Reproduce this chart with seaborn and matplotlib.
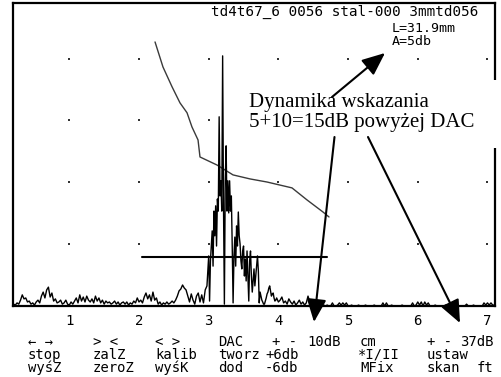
import numpy as np
import pandas as pd
import matplotlib
matplotlib.use("Agg")
import matplotlib.pyplot as plt
import seaborn as sns
from matplotlib.patches import Rectangle, FancyArrowPatch

# ---------------- data ----------------
step = 0.025
noise_start = 0.20
noise_amp = [
    0.6, 0.3, 1.0, 0.6, 1.9, 3.6, 2.3, 2.6, 1.3, 1.6,
    0.6, 1.0, 0.3, 1.3, 1.9, 1.0, 3.2, 4.5, 2.6, 5.2,
    6.1, 2.9, 4.2, 1.6, 2.3, 1.0, 1.3, 1.9, 0.6, 1.0,
    1.9, 0.6, 0.3, 1.3, 0.6, 1.6, 2.6, 1.0, 3.6, 1.6,
    2.9, 1.3, 3.2, 1.9, 1.3, 2.3, 1.0, 3.2, 1.6, 2.6,
    1.0, 1.9, 0.6, 1.6, 1.0, 1.3, 0.6, 1.0, 1.6, 0.6,
    1.3, 0.3, 1.0, 1.3, 0.6, 1.3, 0.3, 1.0, 0.6, 1.6,
    1.0, 2.6, 1.3, 1.9, 1.0, 2.9, 4.2, 2.3, 3.6, 1.6,
    4.5, 1.9, 2.6, 0.6, 1.3, 0.3, 1.0, 0.6, 1.3, 0.6,
    1.0, 1.6, 1.0, 1.9, 3.2, 4.9, 5.5, 6.8, 5.8, 5.2,
    3.2, 1.3, 3.9, 1.9, 0.6, 3.2, 4.2, 1.3, 3.6, 1.0, 5.2,
]
echo_start = 2.975
echo_step = 0.0125
echo_amp = [
    6.5, 11.3, 16.2, 1.6, 14.6, 19.4, 24.3, 12.9, 30.7, 22.7,
    32.4, 19.4, 34.6, 30.7, 61.2, 35.6, 40.5, 30.7, 80.9, 32.4,
    0.6, 40.5, 51.8, 30.7, 40.5, 30.1, 40.5, 30.7, 35.6, 19.4,
    1.0, 16.2, 22.3, 12.9, 25.9, 19.4, 30.4, 22.7, 20.1, 14.6,
    12.0, 17.8, 19.4, 9.7, 15.2, 8.1, 17.8, 9.7, 1.6, 14.6,
    17.8, 9.7, 4.5, 8.1, 12.0, 6.5, 9.7, 12.9, 16.2, 11.3,
    1.0, 4.5, 3.2, 1.9, 1.3, 0.6, 0.6, 1.6, 2.6, 3.9,
    4.5, 5.8, 6.5, 4.9, 3.2, 3.9, 4.2, 2.6, 1.6, 1.9,
]
tail_start = 3.975
tail_amp = [
    2.6, 1.3, 1.9, 2.9, 1.0, 1.6, 0.6, 2.3, 1.3, 0.6,
    1.6, 0.3, 1.0, 1.9, 0.6, 1.3, 0.3, 1.0, 3.2, 1.3,
    0.3, 0.3, 0.0, 0.3, 0.0, 0.3, 0.0, 0.3, 0.0, 0.3,
    0.0, 0.0, 1.0, 0.0, 0.0, 0.3, 1.0, 0.3, 1.0, 0.3,
    1.0, 0.0, 0.0, 0.3, 0.0, 0.0, 0.0, 0.3, 0.0, 0.0,
    0.0, 0.3, 0.0, 0.0, 0.0, 0.0, 0.3, 0.0, 0.0, 0.0,
    0.0, 1.0, 0.0, 1.0, 0.0, 0.0, 0.3, 0.0, 0.0, 0.0,
    0.0, 0.0, 0.3, 0.0, 0.0, 0.0, 0.0, 0.0, 1.0, 0.0,
    0.3, 1.3, 0.3, 1.3, 0.0, 1.3, 0.3, 1.0, 0.0, 0.0,
    0.0, 0.3, 0.0, 0.0, 0.0, 0.0, 0.0, 0.3, 0.0, 0.0,
    0.0, 0.0, 0.0, 0.0, 0.0, 0.0, 0.0, 0.0, 0.0, 0.6,
    0.0, 0.0, 0.0, 0.3, 0.0, 0.0, 0.0, 0.0, 0.0, 1.0,
    0.3, 1.0, 0.3, 1.0, 0.3, 0.3,
]

dac_x = [2.230, 2.344, 2.474, 2.588, 2.689, 2.760, 2.847, 2.875,
         3.119, 3.349, 3.593, 3.837, 4.195, 4.411, 4.640, 4.726]
dac_y = [85.4, 77.3, 70.9, 65.7, 62.5, 57.9, 53.7, 48.2,
         45.6, 42.4, 41.1, 40.1, 38.2, 34.3, 30.4, 28.8]

gate_x = [2.04, 4.70]
gate_y = [15.9, 15.9]

tick_positions = [1, 2, 3, 4, 5, 6, 7]
tick_labels = ["1", "2", "3", "4", "5", "6", "7"]
grid_levels = [20, 40, 60, 80]

header_text = "td4t67_6 0056 stal-000 3mmtd056"
info_lines = ["L=31.9mm", "A=5db"]
menu_row1 = ["← →", "> <", "< >", "DAC", "+ -", "10dB", "cm", "+ -", "37dB"]
menu_row2 = ["stop", "zalZ", "kalib", "tworz", "+6db", "*I/II", "ustaw"]
menu_row3 = ["wyśZ", "zeroZ", "wyśK", "dod", "-6db", "MFix", "skan", "ft"]
annotation_lines = ["Dynamika wskazania", "5+10=15dB powyżej DAC"]

# ---------------- build tables ----------------
def segment(start, amps, dx):
    return pd.DataFrame({"x": start + dx * np.arange(len(amps)), "amp": amps})

trace = pd.concat([segment(noise_start, noise_amp, step),
                   segment(echo_start, echo_amp, echo_step),
                   segment(tail_start, tail_amp, step)], ignore_index=True)
dac = pd.DataFrame({"x": dac_x, "y": dac_y})
gate = pd.DataFrame({"x": gate_x, "y": gate_y})
dots = pd.DataFrame([(x, y) for x in tick_positions for y in grid_levels], columns=["x", "y"])

# ---------------- figure ----------------
sns.set_style("white")
plt.rcParams["font.family"] = ["DejaVu Sans Mono", "DejaVu Sans"]

W, H = 502, 377
fig = plt.figure(figsize=(W / 100, H / 100), dpi=100)
ax = fig.add_axes([13 / W, 1 - 306 / H, (495 - 13) / W, (306 - 3) / H])

sns.scatterplot(data=dots, x="x", y="y", ax=ax, marker="s", s=2.0,
                color="#333333", linewidth=0, zorder=1)
sns.lineplot(data=trace, x="x", y="amp", ax=ax, estimator=None, sort=False,
             color="black", linewidth=1.0, zorder=3)
sns.lineplot(data=dac, x="x", y="y", ax=ax, estimator=None, sort=False,
             color="#3a3a3a", linewidth=1.0, zorder=2)
sns.lineplot(data=gate, x="x", y="y", ax=ax, estimator=None, sort=False,
             color="black", linewidth=1.5, zorder=2)

ax.set_xlim(0.192, 7.108)
ax.set_ylim(0, 98)
ax.set_xlabel("")
ax.set_ylabel("")
ax.set_yticks([])
ax.set_xticks(tick_positions, labels=tick_labels)
ax.tick_params(axis="x", direction="out", length=2.5, width=1.0, pad=3,
               labelsize=10, colors="black")
for sp in ax.spines.values():
    sp.set_linewidth(1.6)
    sp.set_color("black")

def fp(px, py):
    return (px / W, 1 - py / H)

# white box behind annotation text
fig.add_artist(Rectangle(fp(244, 148), (502 - 244) / W, (148 - 80) / H,
                         transform=fig.transFigure, facecolor="white",
                         edgecolor="none", zorder=5))

mono = dict(family=["DejaVu Sans Mono", "DejaVu Sans"], fontsize=10,
            color="black", va="baseline", ha="left", zorder=6)

# header
fig.text(*fp(211, 16), header_text, **{**mono, "fontsize": 10.3})
for line, py in zip(info_lines, [32, 45]):
    fig.text(*fp(392, py), line, **{**mono, "fontsize": 9.5})

# bottom menu
for word, px in zip(menu_row1, [28, 93, 155, 218, 272, 307, 360, 427, 460]):
    fig.text(*fp(px, 346), word, **mono)
for word, px in zip(menu_row2, [28, 93, 155, 218, 265, 358, 427]):
    fig.text(*fp(px, 359), word, **mono)
for word, px in zip(menu_row3, [28, 93, 155, 218, 265, 360, 427, 477]):
    fig.text(*fp(px, 372), word, **mono)

# annotation text
for line, py in zip(annotation_lines, [107, 127]):
    fig.text(*fp(249, py), line, family="Liberation Serif", fontsize=15,
             color="black", va="baseline", ha="left", zorder=6)

# arrows
arrow_style = "-|>,head_length=1.4,head_width=0.6"
for (a, b) in [((332, 97), (385, 53)), ((334.5, 137), (314, 322)), ((368, 137), (460, 323))]:
    fig.add_artist(FancyArrowPatch(fp(*a), fp(*b), transform=fig.transFigure,
                                   arrowstyle=arrow_style, mutation_scale=10,
                                   color="black", linewidth=1.5,
                                   shrinkA=0, shrinkB=0, zorder=7))

fig.savefig("out.png", dpi=100)
